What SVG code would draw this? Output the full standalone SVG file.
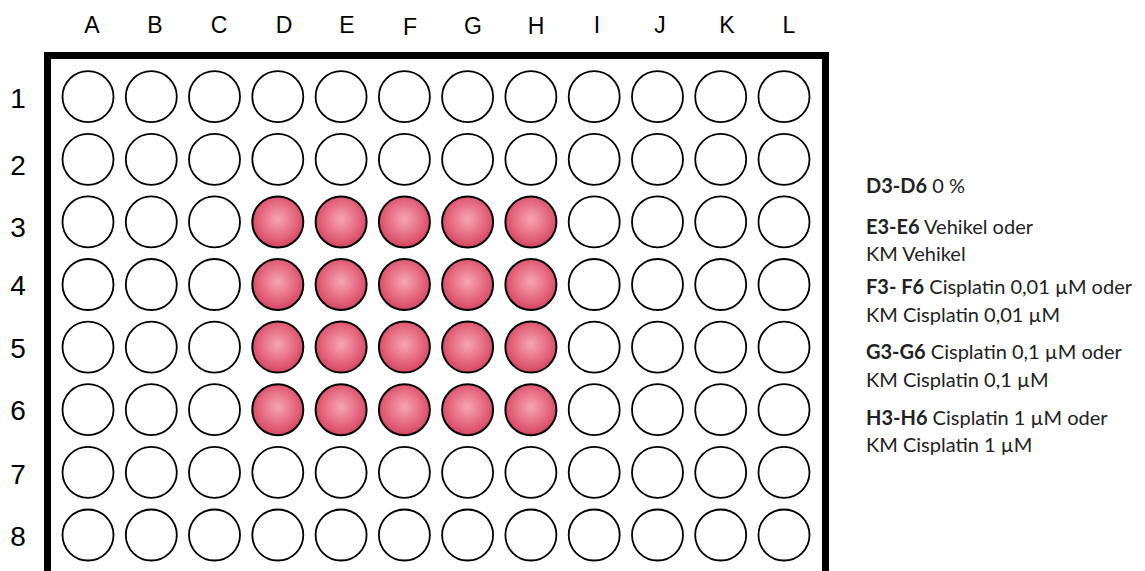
<svg xmlns="http://www.w3.org/2000/svg" width="1145" height="571" viewBox="0 0 1145 571">
<style>
.col{font-family:"Liberation Sans",Arial,sans-serif;font-size:23px;fill:#000;text-anchor:middle}
.row{font-family:"Liberation Sans",Arial,sans-serif;font-size:28px;fill:#000;text-anchor:middle}
.w{fill:#fff;stroke:#000;stroke-width:1.8}
.r{fill:url(#rg);stroke:#000;stroke-width:2}
.lg{font-family:Lato,"Open Sans",sans-serif;font-size:20px;fill:#222}
.lg .b{font-weight:bold}
</style>
<defs>
<radialGradient id="rg" cx="0.5" cy="0.45" r="0.55">
<stop offset="0" stop-color="#f6a5b4"/>
<stop offset="0.6" stop-color="#e66b82"/>
<stop offset="1" stop-color="#d44560"/>
</radialGradient>
</defs>
<rect width="1145" height="571" fill="#fff"/>
<g id="column-labels">
<text class="col" x="92" y="33">A</text>
<text class="col" x="155" y="33">B</text>
<text class="col" x="219" y="33">C</text>
<text class="col" x="284" y="33">D</text>
<text class="col" x="347" y="33">E</text>
<text class="col" x="410" y="35">F</text>
<text class="col" x="473" y="34">G</text>
<text class="col" x="536" y="34">H</text>
<text class="col" x="597" y="33">I</text>
<text class="col" x="660" y="33">J</text>
<text class="col" x="727" y="33">K</text>
<text class="col" x="789" y="33">L</text>
</g>
<g id="row-labels">
<text class="row" x="18" y="108">1</text>
<text class="row" x="18" y="175">2</text>
<text class="row" x="18" y="237">3</text>
<text class="row" x="18" y="295">4</text>
<text class="row" x="18" y="358">5</text>
<text class="row" x="18" y="420">6</text>
<text class="row" x="18" y="484">7</text>
<text class="row" x="18" y="546">8</text>
</g>
<g id="plate">
<path d="M47.5 580 V55.5 H825.5 V580" fill="none" stroke="#000" stroke-width="7"/>
</g>
<g id="wells">
<g id="row1">
<circle class="w" cx="88" cy="96.7" r="25.5"/><circle class="w" cx="151.3" cy="96.7" r="25.5"/><circle class="w" cx="214.5" cy="96.7" r="25.5"/><circle class="w" cx="277.8" cy="96.7" r="25.5"/><circle class="w" cx="341.1" cy="96.7" r="25.5"/><circle class="w" cx="404.4" cy="96.7" r="25.5"/><circle class="w" cx="467.6" cy="96.7" r="25.5"/><circle class="w" cx="530.9" cy="96.7" r="25.5"/><circle class="w" cx="594.2" cy="96.7" r="25.5"/><circle class="w" cx="657.5" cy="96.7" r="25.5"/><circle class="w" cx="720.7" cy="96.7" r="25.5"/><circle class="w" cx="784" cy="96.7" r="25.5"/>
</g>
<g id="row2">
<circle class="w" cx="88" cy="159.3" r="25.5"/><circle class="w" cx="151.3" cy="159.3" r="25.5"/><circle class="w" cx="214.5" cy="159.3" r="25.5"/><circle class="w" cx="277.8" cy="159.3" r="25.5"/><circle class="w" cx="341.1" cy="159.3" r="25.5"/><circle class="w" cx="404.4" cy="159.3" r="25.5"/><circle class="w" cx="467.6" cy="159.3" r="25.5"/><circle class="w" cx="530.9" cy="159.3" r="25.5"/><circle class="w" cx="594.2" cy="159.3" r="25.5"/><circle class="w" cx="657.5" cy="159.3" r="25.5"/><circle class="w" cx="720.7" cy="159.3" r="25.5"/><circle class="w" cx="784" cy="159.3" r="25.5"/>
</g>
<g id="row3">
<circle class="w" cx="88" cy="221.9" r="25.5"/><circle class="w" cx="151.3" cy="221.9" r="25.5"/><circle class="w" cx="214.5" cy="221.9" r="25.5"/><circle class="r" cx="277.8" cy="221.9" r="25.5"/><circle class="r" cx="341.1" cy="221.9" r="25.5"/><circle class="r" cx="404.4" cy="221.9" r="25.5"/><circle class="r" cx="467.6" cy="221.9" r="25.5"/><circle class="r" cx="530.9" cy="221.9" r="25.5"/><circle class="w" cx="594.2" cy="221.9" r="25.5"/><circle class="w" cx="657.5" cy="221.9" r="25.5"/><circle class="w" cx="720.7" cy="221.9" r="25.5"/><circle class="w" cx="784" cy="221.9" r="25.5"/>
</g>
<g id="row4">
<circle class="w" cx="88" cy="284.5" r="25.5"/><circle class="w" cx="151.3" cy="284.5" r="25.5"/><circle class="w" cx="214.5" cy="284.5" r="25.5"/><circle class="r" cx="277.8" cy="284.5" r="25.5"/><circle class="r" cx="341.1" cy="284.5" r="25.5"/><circle class="r" cx="404.4" cy="284.5" r="25.5"/><circle class="r" cx="467.6" cy="284.5" r="25.5"/><circle class="r" cx="530.9" cy="284.5" r="25.5"/><circle class="w" cx="594.2" cy="284.5" r="25.5"/><circle class="w" cx="657.5" cy="284.5" r="25.5"/><circle class="w" cx="720.7" cy="284.5" r="25.5"/><circle class="w" cx="784" cy="284.5" r="25.5"/>
</g>
<g id="row5">
<circle class="w" cx="88" cy="347.1" r="25.5"/><circle class="w" cx="151.3" cy="347.1" r="25.5"/><circle class="w" cx="214.5" cy="347.1" r="25.5"/><circle class="r" cx="277.8" cy="347.1" r="25.5"/><circle class="r" cx="341.1" cy="347.1" r="25.5"/><circle class="r" cx="404.4" cy="347.1" r="25.5"/><circle class="r" cx="467.6" cy="347.1" r="25.5"/><circle class="r" cx="530.9" cy="347.1" r="25.5"/><circle class="w" cx="594.2" cy="347.1" r="25.5"/><circle class="w" cx="657.5" cy="347.1" r="25.5"/><circle class="w" cx="720.7" cy="347.1" r="25.5"/><circle class="w" cx="784" cy="347.1" r="25.5"/>
</g>
<g id="row6">
<circle class="w" cx="88" cy="409.7" r="25.5"/><circle class="w" cx="151.3" cy="409.7" r="25.5"/><circle class="w" cx="214.5" cy="409.7" r="25.5"/><circle class="r" cx="277.8" cy="409.7" r="25.5"/><circle class="r" cx="341.1" cy="409.7" r="25.5"/><circle class="r" cx="404.4" cy="409.7" r="25.5"/><circle class="r" cx="467.6" cy="409.7" r="25.5"/><circle class="r" cx="530.9" cy="409.7" r="25.5"/><circle class="w" cx="594.2" cy="409.7" r="25.5"/><circle class="w" cx="657.5" cy="409.7" r="25.5"/><circle class="w" cx="720.7" cy="409.7" r="25.5"/><circle class="w" cx="784" cy="409.7" r="25.5"/>
</g>
<g id="row7">
<circle class="w" cx="88" cy="472.3" r="25.5"/><circle class="w" cx="151.3" cy="472.3" r="25.5"/><circle class="w" cx="214.5" cy="472.3" r="25.5"/><circle class="w" cx="277.8" cy="472.3" r="25.5"/><circle class="w" cx="341.1" cy="472.3" r="25.5"/><circle class="w" cx="404.4" cy="472.3" r="25.5"/><circle class="w" cx="467.6" cy="472.3" r="25.5"/><circle class="w" cx="530.9" cy="472.3" r="25.5"/><circle class="w" cx="594.2" cy="472.3" r="25.5"/><circle class="w" cx="657.5" cy="472.3" r="25.5"/><circle class="w" cx="720.7" cy="472.3" r="25.5"/><circle class="w" cx="784" cy="472.3" r="25.5"/>
</g>
<g id="row8">
<circle class="w" cx="88" cy="535" r="25.5"/><circle class="w" cx="151.3" cy="535" r="25.5"/><circle class="w" cx="214.5" cy="535" r="25.5"/><circle class="w" cx="277.8" cy="535" r="25.5"/><circle class="w" cx="341.1" cy="535" r="25.5"/><circle class="w" cx="404.4" cy="535" r="25.5"/><circle class="w" cx="467.6" cy="535" r="25.5"/><circle class="w" cx="530.9" cy="535" r="25.5"/><circle class="w" cx="594.2" cy="535" r="25.5"/><circle class="w" cx="657.5" cy="535" r="25.5"/><circle class="w" cx="720.7" cy="535" r="25.5"/><circle class="w" cx="784" cy="535" r="25.5"/>
</g>
</g>
<g id="legend" class="lg">
<text x="866" y="193"><tspan class="b">D3-D6</tspan> 0 %</text>
<text x="866" y="234"><tspan class="b">E3-E6</tspan> Vehikel oder</text>
<text x="866" y="261">KM Vehikel</text>
<text x="866" y="294"><tspan class="b">F3- F6</tspan> Cisplatin 0,01 µM oder</text>
<text x="866" y="322">KM Cisplatin 0,01 µM</text>
<text x="866" y="359"><tspan class="b">G3-G6</tspan> Cisplatin 0,1 µM oder</text>
<text x="866" y="387">KM Cisplatin 0,1 µM</text>
<text x="866" y="425"><tspan class="b">H3-H6</tspan> Cisplatin 1 µM oder</text>
<text x="866" y="452">KM Cisplatin 1 µM</text>
</g>
</svg>
